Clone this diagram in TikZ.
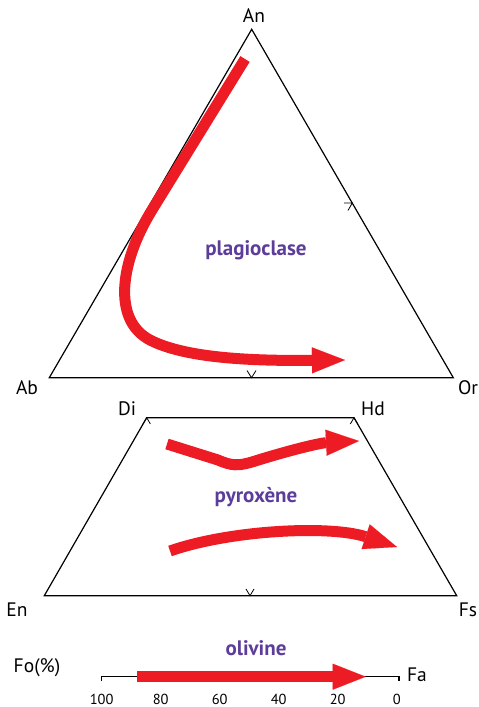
\documentclass[tikz,border=0pt]{standalone}
\usepackage{fontspec}
\setmainfont{PT Sans}
\usetikzlibrary{arrows.meta}
\definecolor{myred}{HTML}{ED1C24}
\definecolor{mypurple}{HTML}{5C3D99}
\tikzset{
  frame/.style={draw=black, line width=1.2pt, line join=miter},
  tk/.style={draw=black, line width=0.8pt},
  redarr/.style={draw=myred, line width=11pt,
    -{Triangle[length=33pt,width=26pt,line width=0.1pt]}},
  lbl/.style={font=\fontsize{19.5}{19.5}\selectfont, inner sep=0pt},
  num/.style={font=\fontsize{14.5}{14.5}\selectfont, inner sep=0pt, anchor=base},
  mineral/.style={font=\fontsize{21}{21}\selectfont\bfseries, text=mypurple, inner sep=0pt}
}
\begin{document}
\begin{tikzpicture}[x=1pt,y=-1pt]
\useasboundingbox (0,0) rectangle (479,707);
% ---------- plagioclase triangle ----------
\coordinate (an) at (251.7,29.3);
\coordinate (ab) at (49.3,377.7);
\coordinate (or) at (453.3,377.7);
\draw[frame] (an) -- (ab) -- (or) -- cycle;
\draw[tk] (247,370.5) -- (251.5,377.7) -- (256,370.5);
\draw[tk] (344,203) -- (352.2,203) -- (348,210.5);
\node[lbl] (lan) at (254,16) {An};
\node[lbl] (lab) at (27,388) {Ab};
\node[lbl] (lor) at (468,388) {Or};
\node[mineral] (plag) at (256,250) {plagioclase};
\draw[redarr] (245,59) -- (152,210) .. controls (120,262) and (112,320) .. (150,340)
  .. controls (185,358) and (250,361) .. (345,360);
% ---------- pyroxene trapezoid ----------
\coordinate (di) at (146.7,417.7);
\coordinate (hd) at (354,417.7);
\coordinate (fs) at (456.7,595.7);
\coordinate (en) at (44.3,595.7);
\draw[frame] (di) -- (hd) -- (fs) -- (en) -- cycle;
\draw[tk] (143,424) -- (di) -- (150.4,424);
\draw[tk] (350.3,424) -- (hd) -- (357.7,424);
\draw[tk] (246,589) -- (250,595.7) -- (254,589);
\node[lbl] (ldi) at (127,409) {Di};
\node[lbl] (lhd) at (373,409) {Hd};
\node[lbl] (len) at (17,610) {En};
\node[lbl] (lfs) at (468,610) {Fs};
\node[mineral] (pyx) at (256,497) {pyroxène};
\draw[redarr] (167,444) -- (218,460) .. controls (232,466) and (238,466) .. (252,462)
  .. controls (290,450) and (320,443) .. (359,441);
\draw[redarr] (170,551) .. controls (230,530) and (330,525) .. (397,547);
% ---------- olivine scale ----------
\coordinate (o100) at (101.7,676.7);
\coordinate (o0) at (399,676.7);
\draw[frame] (101.7,681) -- (o100) -- (o0) -- (399,681);
\node[mineral] (oliv) at (256,648) {olivine};
\node[lbl] (lfo) at (37,668) {Fo(\%)};
\node[lbl] (lfa) at (417,675) {Fa};
\node[num] (n100) at (101.7,704) {100};
\node[num] (n80) at (160.7,704) {80};
\node[num] (n60) at (219.7,704) {60};
\node[num] (n40) at (278.7,704) {40};
\node[num] (n20) at (337.7,704) {20};
\node[num] (n0) at (396.7,704) {0};
\draw[redarr] (137.3,676.7) -- (365.7,676.7);
\end{tikzpicture}
\end{document}
